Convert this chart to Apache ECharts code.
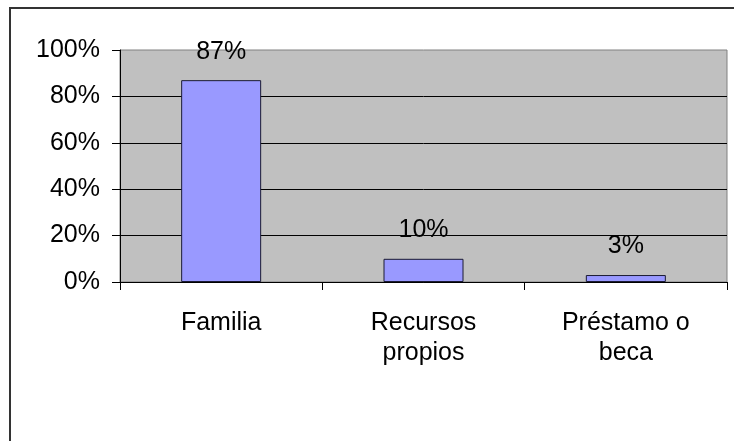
<!DOCTYPE html>
<html>
<head>
<meta charset="utf-8">
<script src="https://cdn.jsdelivr.net/npm/echarts@6/dist/echarts.min.js"></script>
<style>
  html, body { margin: 0; padding: 0; background: #fff; }
  #chart { width: 734px; height: 441px; }
</style>
</head>
<body>
<div id="chart"></div>
<script>
// categories and shares
const categories = ['Familia', 'Recursos\npropios', 'Préstamo o\nbeca'];
const shares = [87, 10, 3];
const yTicks = [0, 20, 40, 60, 80, 100];

const font = "'Liberation Sans', Arial, sans-serif";

const chart = echarts.init(document.getElementById('chart'), null, {renderer: 'canvas'});

chart.setOption({
    animation: false,
    graphic: [{
        type: 'rect',
        shape: {x: 10, y: 8, width: 800, height: 500},
        style: {fill: 'none', stroke: '#333', lineWidth: 2},
        silent: true
    }],
    grid: {
        left: 120, right: 7, top: 50, bottom: 159,
        show: true,
        backgroundColor: '#c0c0c0',
        borderColor: '#808080',
        borderWidth: 1
    },
    xAxis: {
        type: 'category',
        data: categories,
        axisLine: {lineStyle: {color: '#000', width: 1}},
        axisTick: {show: true, length: 8, lineStyle: {color: '#000'}},
        axisLabel: {
            color: '#000', fontSize: 25, fontFamily: font,
            lineHeight: 30, margin: 26, interval: 0
        }
    },
    yAxis: {
        type: 'value',
        min: yTicks[0],
        max: yTicks[yTicks.length - 1],
        interval: 20,
        axisLine: {show: true, lineStyle: {color: '#000', width: 1}},
        axisTick: {show: true, length: 8, lineStyle: {color: '#000'}},
        axisLabel: {
            color: '#000', fontSize: 25, fontFamily: font, margin: 20,
            formatter: '{value}%'
        },
        splitLine: {show: true, showMaxLine: false, lineStyle: {color: '#000', width: 1}}
    },
    series: [{
        type: 'bar',
        data: shares,
        barWidth: 80,
        itemStyle: {color: '#9999ff', borderColor: '#1a1a33', borderWidth: 1},
        label: {
            show: true, position: 'top', distance: 16,
            color: '#000', fontSize: 25, fontFamily: font,
            formatter: '{c}%'
        }
    }]
});
</script>
</body>
</html>
